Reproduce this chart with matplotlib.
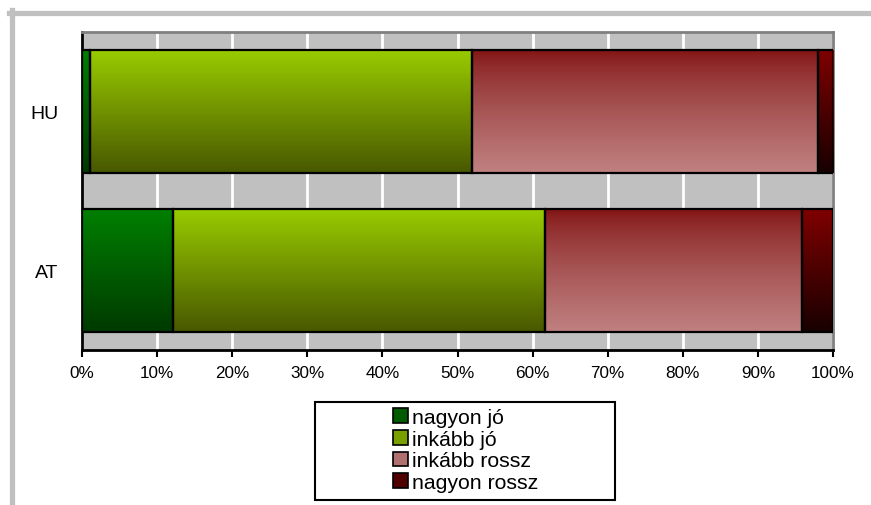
import numpy as np
import matplotlib.pyplot as plt
from matplotlib.colors import to_rgb
from matplotlib.patches import Rectangle
from matplotlib.lines import Line2D

plt.rcParams['font.family'] = ['Liberation Sans', 'DejaVu Sans']

# Adatok
orszagok = ['AT', 'HU']
kategoriak = ['nagyon jó', 'inkább jó', 'inkább rossz', 'nagyon rossz']
nagyon_jo = [12.1, 1.0]
inkabb_jo = [49.5, 50.9]
inkabb_rossz = [34.3, 46.1]
nagyon_rossz = [4.1, 2.0]
ertekek = [nagyon_jo, inkabb_jo, inkabb_rossz, nagyon_rossz]

# szinatmenetek (felső, alsó, gamma)
szinek = [('#008000', '#003a00', 1.0),
          ('#99cc00', '#485800', 1.0),
          ('#801010', '#c08080', 0.7),
          ('#800000', '#180000', 1.0)]
jel_szinek = ['#005a00', '#7aa000', '#b07070', '#500000']

fig = plt.figure(figsize=(8.71, 5.06), dpi=100)
ax = fig.add_axes([82/871, 1-351/506, (833-82)/871, (351-33)/506])
ax.set_facecolor('#c0c0c0')

y = np.arange(len(orszagok))
magassag = 0.775
bal = np.zeros(len(orszagok))
for vals, (c1, c2, g) in zip(ertekek, szinek):
  bars = ax.barh(y, vals, left=bal, height=magassag, color='none',
                 edgecolor='black', linewidth=1.6, zorder=4)
  grad = (np.linspace(0, 1, 100) ** g)[:, None, None]
  img = (1 - grad) * np.array(to_rgb(c1)) + grad * np.array(to_rgb(c2))
  for b in bars:
    x0, y0 = b.get_x(), b.get_y()
    w, h = b.get_width(), b.get_height()
    im = ax.imshow(img, extent=(x0, x0 + w, y0, y0 + h), origin='upper',
                   aspect='auto', zorder=3)
    im.set_clip_path(b)
  bal += np.array(vals)

ax.set_xlim(0, 100)
ax.set_ylim(-0.5, 1.5)
ax.set_xticks(np.arange(0, 101, 10))
ax.set_xticklabels(['%d%%' % v for v in range(0, 101, 10)], fontsize=12.3)
ax.set_yticks(y)
ax.set_yticklabels(orszagok, fontsize=14)
ax.tick_params(axis='y', length=0, pad=17)
ax.tick_params(axis='x', length=5, width=1.5, direction='out', pad=6)
ax.grid(axis='x', color='white', linewidth=2, zorder=1)
ax.set_axisbelow(True)
for s in ['left', 'bottom']:
  ax.spines[s].set_color('black')
  ax.spines[s].set_linewidth(2)
for s in ['top', 'right']:
  ax.spines[s].set_color('#808080')
  ax.spines[s].set_linewidth(2)

# Külső szürke keret
fig.add_artist(Line2D([9/871, 1], [1-13.5/506, 1-13.5/506], color='#c0c0c0',
                      linewidth=3.8, transform=fig.transFigure))
fig.add_artist(Line2D([12/871, 12/871], [0, 1-11/506], color='#c0c0c0',
                      linewidth=3.8, transform=fig.transFigure))

# Jelmagyarázat
fig.add_artist(Rectangle((315/871, 1-501/506), 300/871, 98/506, fill=False,
                         edgecolor='black', linewidth=1.5, transform=fig.transFigure))
kezelok = [Rectangle((0, 0), 1, 1, facecolor=c, edgecolor='black', linewidth=1.2)
           for c in jel_szinek]
fig.legend(kezelok, kategoriak, loc='center', bbox_to_anchor=(466/871, 1-451/506),
           frameon=False, fontsize=15.3, handlelength=0.7, handleheight=0.7,
           handletextpad=0.2, labelspacing=0.13, borderpad=0)

fig.savefig('out.png', dpi=100)
